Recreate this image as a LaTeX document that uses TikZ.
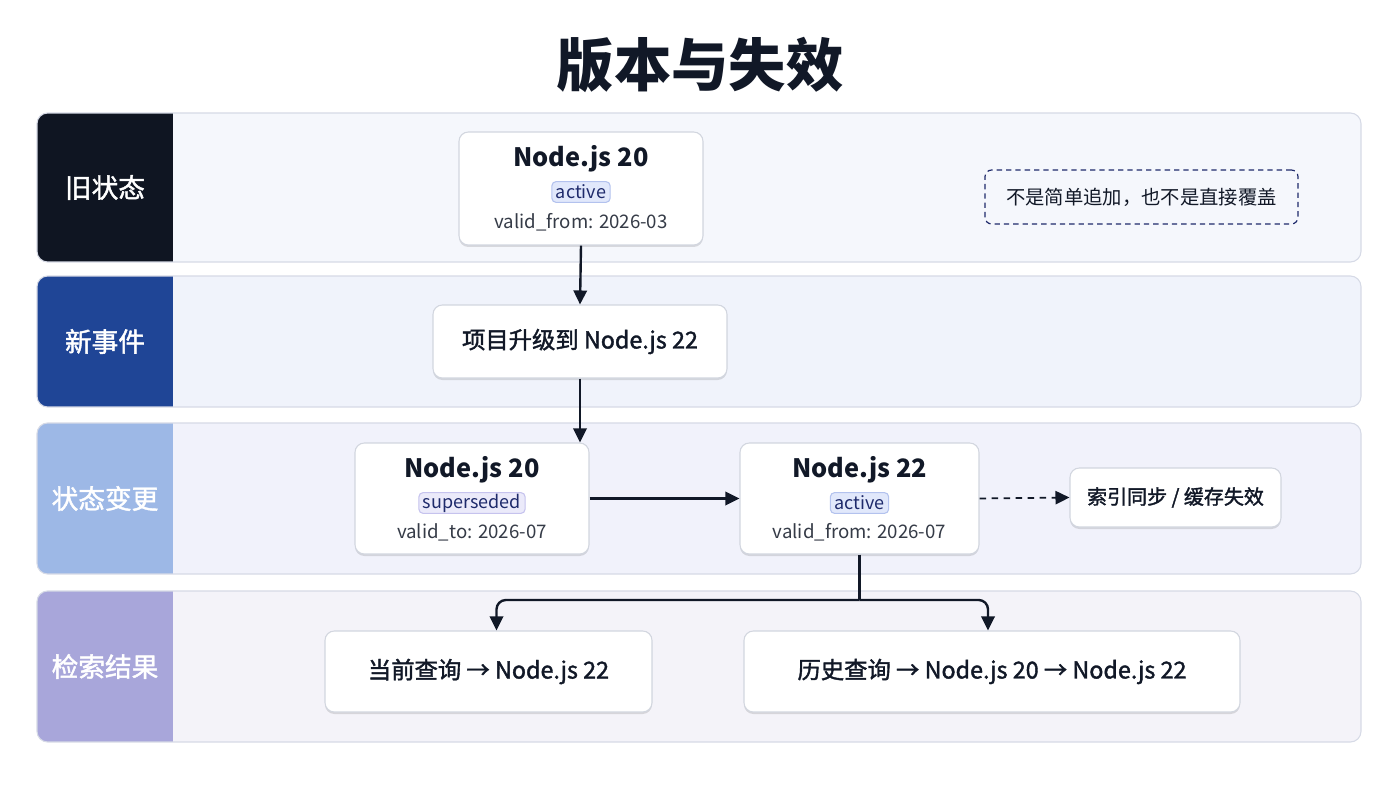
\documentclass[tikz,border=0pt]{standalone}
\usepackage{fontspec}
\setmainfont{Noto Sans CJK SC}
\newfontfamily\medium{Noto Sans CJK SC}[FakeBold=1.6]
\usetikzlibrary{arrows.meta,shadows}

\definecolor{ink}{HTML}{111827}
\definecolor{navy}{HTML}{1E2A6B}
\definecolor{laneline}{HTML}{D6DAE6}
\definecolor{cardline}{HTML}{D2D6DF}
\definecolor{labA}{HTML}{0F1522}
\definecolor{labB}{HTML}{1F4596}
\definecolor{labC}{HTML}{9DB8E6}
\definecolor{labD}{HTML}{A8A6DA}
\definecolor{bgA}{HTML}{F5F7FC}
\definecolor{bgB}{HTML}{F0F3FB}
\definecolor{bgC}{HTML}{F1F2FB}
\definecolor{bgD}{HTML}{F4F3F9}
\definecolor{activefill}{HTML}{E1E8FB}
\definecolor{activeline}{HTML}{B3C2EE}
\definecolor{supfill}{HTML}{EBEAFA}
\definecolor{supline}{HTML}{C6C3EE}

\newcommand\fs[1]{\fontsize{#1}{#1}\selectfont}

\tikzset{
  lanetext/.style={text=white,font=\fs{20}\medium},
  card/.style={draw=cardline,fill=white,line width=0.8pt,rounded corners=7pt,
    drop shadow={shadow xshift=0pt,shadow yshift=-1.5pt,opacity=.12,fill=black}},
  cardtitle/.style={text=ink,font=\fs{19}\bfseries},
  cardinfo/.style={text=ink!85,font=\fs{14}},
  badge/.style={draw=#1line,fill=#1fill,text=navy,font=\fs{13.5},rounded corners=3pt,
    line width=0.8pt,inner xsep=3pt,inner ysep=0pt,minimum height=15.5pt},
  arr/.style={draw=ink,line width=1.8pt,-{Triangle[length=10.5pt,width=10pt]}},
}

\begin{document}
\begin{tikzpicture}[x=0.75pt,y=-0.75pt]
\useasboundingbox (0,0) rectangle (1400,788);
\fill[white] (0,0) rectangle (1400,788);

\node[text=ink,font=\fs{43}\bfseries] (title) at (700,65) {版本与失效};

% lanes
\foreach \n/\lab/\top/\bot/\col/\bg in {1/旧状态/113/262/labA/bgA,2/新事件/276/407/labB/bgB,
    3/状态变更/423/574/labC/bgC,4/检索结果/591/742/labD/bgD}{
  \begin{scope}
    \clip[rounded corners=8pt] (37,\top) rectangle (1361,\bot);
    \fill[\bg] (37,\top) rectangle (1361,\bot);
    \fill[\col] (37,\top) rectangle (173,\bot);
  \end{scope}
  \draw[laneline,line width=0.8pt,rounded corners=8pt] (37,\top) rectangle (1361,\bot);
  \node[lanetext] (lane\n) at (105,{(\top+\bot)/2}) {\lab};
}

% old state
\node[card,minimum width=183pt,minimum height=84.75pt] (old) at (581,188.5) {};
\node[cardtitle] (oldT) at (581,159) {Node.js 20};
\node[badge=active] (oldS) at (581,192) {active};
\node[cardinfo] (oldI) at (581,222) {valid\_from: 2026-03};

\node[draw=navy,dashed,dash pattern=on 4pt off 3pt,line width=0.9pt,rounded corners=5pt,
  minimum width=234.75pt,minimum height=40.5pt,text=ink,font=\fs{14.5}] (note) at (1141.5,197)
  {不是简单追加，也不是直接覆盖};

% event
\node[card,minimum width=220.5pt,minimum height=54.75pt,text=ink,font=\fs{17.5}\medium]
  (event) at (580,341.5) {项目升级到 Node.js 22};

% state change
\node[card,minimum width=175.5pt,minimum height=83.25pt] (sup) at (472,498.5) {};
\node[cardtitle] (supT) at (472,470) {Node.js 20};
\node[badge=sup] (supS) at (472,503) {superseded};
\node[cardinfo] (supI) at (472,532) {valid\_to: 2026-07};

\node[card,minimum width=179.25pt,minimum height=83.25pt] (new) at (859.5,498.5) {};
\node[cardtitle] (newT) at (859.5,470) {Node.js 22};
\node[badge=active] (newS) at (859.5,503) {active};
\node[cardinfo] (newI) at (859.5,532) {valid\_from: 2026-07};

\node[card,minimum width=158.25pt,minimum height=44.25pt,text=ink,font=\fs{15}\medium]
  (sync) at (1175.5,497.5) {索引同步 / 缓存失效};

% results
\node[card,minimum width=245.25pt,minimum height=60.75pt,text=ink,font=\fs{17.5}\medium]
  (cur) at (488.5,671.5) {当前查询 → Node.js 22};
\node[card,minimum width=372pt,minimum height=60.75pt,text=ink,font=\fs{17.5}\medium]
  (hist) at (992,671.5) {历史查询 → Node.js 20 → Node.js 22};

\draw[arr] (old.south) -- (event.north);
\draw[arr] (event.south) -- (event.south |- sup.north);
\draw[arr] (sup.east) -- (new.west);
\draw[arr,dashed,dash pattern=on 5pt off 4pt,line width=1.3pt] (new.east) -- (sync.west);

\coordinate (split) at (859.5,600);
\draw[ink,line width=1.8pt] (new.south) -- (split);
\draw[arr,rounded corners=7pt] (split) -| ([xshift=6pt]cur.north);
\draw[arr,rounded corners=7pt] (split) -| ([xshift=-3pt]hist.north);
\end{tikzpicture}
\end{document}
